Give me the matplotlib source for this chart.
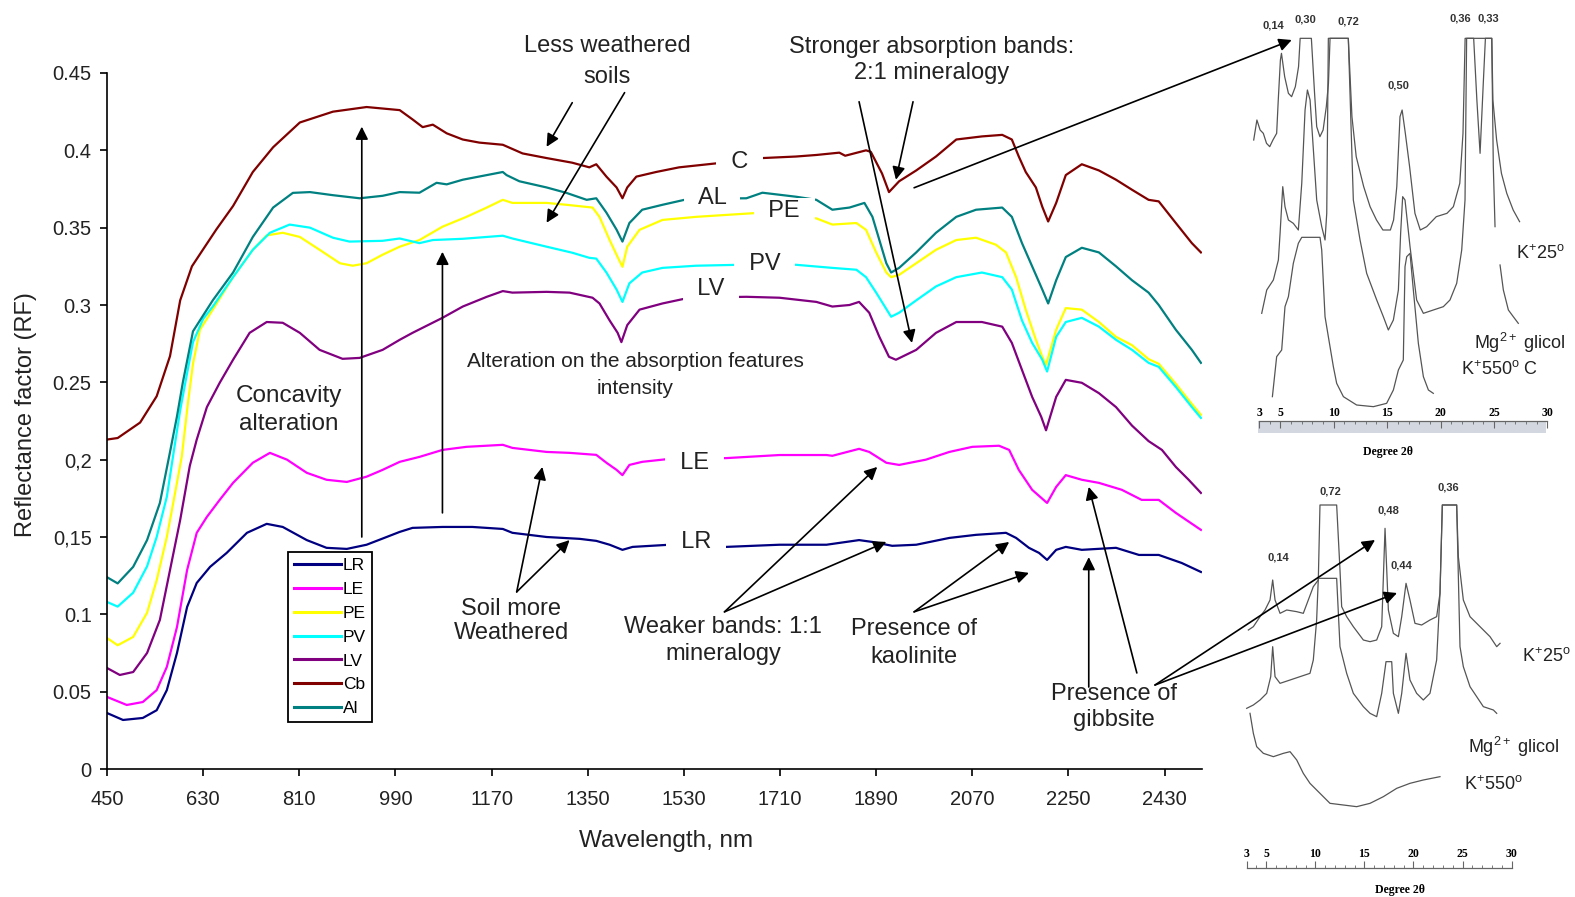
import numpy as np
import matplotlib
matplotlib.use("Agg")
import matplotlib.pyplot as plt
from matplotlib.lines import Line2D
from matplotlib.patches import ConnectionPatch

plt.rcParams["font.family"] = ["Liberation Sans", "DejaVu Sans"]
plt.rcParams["mathtext.fontset"] = "custom"
plt.rcParams["mathtext.rm"] = "Liberation Sans"
plt.rcParams["mathtext.it"] = "Liberation Sans:italic"
plt.rcParams["mathtext.bf"] = "Liberation Sans:bold"

# ---- reflectance spectra (wavelength nm, reflectance factor) ----
wl_lr = [450, 480, 517, 543, 562, 581, 600, 618, 643, 674, 712, 749, 779, 824, 861, 899, 936, 966,
         998, 1022, 1078, 1134, 1191, 1209, 1273, 1335, 1366, 1391, 1415, 1434, 1503, 1609, 1709,
         1797, 1858, 1883, 1920, 1965, 2027, 2077, 2133, 2152, 2176, 2195, 2210, 2227, 2245, 2275,
         2339, 2382, 2419, 2462, 2498]
rf_lr = [.0362, .0317, .033, .038, .051, .075, .1048, .1203, .1307, .1397, .1527, .1585, .1565,
         .148, .143, .1423, .145, .149, .1533, .1559, .1565, .1565, .1552, .1527, .150, .1488,
         .1475, .145, .1417, .1436, .145, .1436, .145, .145, .148, .1468, .1443, .145, .1494,
         .1514, .1527, .1494, .143, .1397, .1352, .1417, .1436, .1417, .143, .1384, .1384, .1332,
         .1274]

wl_le = [450, 487, 517, 543, 562, 581, 600, 618, 637, 661, 686, 723, 755, 787, 824, 861, 899, 936,
         966, 998, 1035, 1078, 1123, 1191, 1209, 1273, 1316, 1366, 1385, 1404, 1415, 1428, 1452,
         1503, 1609, 1709, 1797, 1808, 1858, 1877, 1909, 1933, 1983, 2027, 2070, 2120, 2139, 2157,
         2182, 2210, 2227, 2245, 2275, 2307, 2350, 2387, 2419, 2451, 2498]
rf_le = [.0466, .0414, .0433, .051, .066, .0918, .1287, .1527, .163, .174, .185, .198, .2044, .200,
         .1915, .187, .1856, .189, .1934, .1986, .2018, .2063, .2083, .2096, .2076, .205, .2044,
         .2031, .198, .1934, .190, .1966, .1986, .2005, .201, .203, .203, .2025, .207, .205, .198,
         .1966, .200, .205, .2083, .209, .2063, .1934, .1805, .172, .1824, .190, .187, .185, .1805,
         .174, .174, .1656, .1546]

wl_pe = [450, 470, 499, 525, 543, 562, 574, 590, 602, 611, 624, 648, 686, 723, 749, 779, 811, 848,
         886, 910, 936, 966, 998, 1035, 1078, 1123, 1161, 1191, 1209, 1273, 1310, 1359, 1372, 1391,
         1406, 1415, 1424, 1447, 1490, 1553, 1671, 1778, 1808, 1853, 1871, 1890, 1909, 1918, 1933,
         1965, 2002, 2040, 2077, 2114, 2133, 2152, 2170, 2189, 2201, 2208, 2227, 2245, 2275, 2307,
         2339, 2369, 2400, 2419, 2451, 2481, 2498]
rf_pe = [.0847, .080, .0854, .101, .122, .150, .172, .202, .238, .262, .284, .297, .318, .3357, .345,
         .3467, .344, .3357, .327, .3254, .327, .3325, .3377, .342, .3506, .357, .363, .368, .366,
         .366, .3648, .363, .357, .342, .331, .3247, .3377, .3486, .355, .357, .3596, .356, .352,
         .353, .3486, .334, .321, .318, .3195, .327, .3357, .342, .3435, .339, .334, .318, .297,
         .2775, .2665, .2613, .284, .298, .297, .289, .2794, .274, .265, .262, .249, .236, .229]

wl_pv = [450, 470, 499, 525, 543, 562, 574, 587, 600, 611, 630, 648, 686, 723, 755, 792, 830, 873,
         904, 966, 998, 1035, 1060, 1116, 1191, 1209, 1273, 1321, 1353, 1366, 1385, 1404, 1415,
         1428, 1452, 1490, 1553, 1634, 1740, 1808, 1853, 1871, 1890, 1918, 1933, 1965, 2002, 2040,
         2088, 2126, 2144, 2163, 2182, 2201, 2210, 2227, 2245, 2275, 2307, 2339, 2369, 2400, 2419,
         2451, 2481, 2498]
rf_pv = [.108, .105, .114, .131, .150, .176, .203, .232, .256, .276, .291, .299, .318, .3357, .3467,
         .352, .350, .3435, .341, .3415, .343, .340, .342, .3428, .3448, .343, .3377, .3338, .3305,
         .330, .321, .310, .302, .314, .321, .324, .3254, .326, .326, .324, .3228, .318, .308,
         .2924, .295, .303, .312, .318, .321, .318, .310, .290, .2755, .2646, .257, .2794, .289,
         .2917, .286, .2775, .271, .2626, .260, .247, .234, .227]

wl_lv = [450, 474, 499, 525, 549, 568, 587, 605, 618, 637, 661, 686, 717, 749, 779, 811, 848, 891,
         923, 966, 998, 1022, 1078, 1116, 1161, 1191, 1209, 1273, 1316, 1359, 1372, 1391, 1406,
         1413, 1424, 1447, 1490, 1540, 1647, 1709, 1778, 1808, 1840, 1858, 1877, 1896, 1914, 1927,
         1965, 2002, 2040, 2088, 2126, 2144, 2163, 2182, 2199, 2208, 2227, 2245, 2275, 2307, 2339,
         2369, 2400, 2425, 2451, 2475, 2498]
rf_lv = [.0653, .0608, .0627, .075, .0964, .1287, .161, .196, .213, .234, .2497, .2646, .282, .289,
         .2885, .282, .271, .2652, .2658, .271, .2775, .282, .2917, .299, .3053, .309, .308, .3085,
         .308, .3047, .301, .290, .282, .276, .287, .297, .301, .3047, .3053, .3047, .302, .299,
         .300, .302, .295, .2794, .2665, .2646, .271, .282, .289, .289, .286, .2755, .258, .2406,
         .2277, .219, .2406, .2516, .2497, .243, .234, .222, .212, .2063, .1953, .187, .1785]

wl_cb = [450, 470, 512, 543, 568, 587, 609, 630, 655, 686, 723, 761, 811, 873, 936, 998, 1022,
         1041, 1060, 1086, 1116, 1147, 1191, 1228, 1273, 1321, 1353, 1366, 1385, 1404, 1415, 1424,
         1441, 1478, 1521, 1602, 1677, 1740, 1778, 1821, 1832, 1871, 1880, 1901, 1914, 1933, 1965,
         2002, 2040, 2088, 2126, 2144, 2157, 2170, 2189, 2201, 2212, 2227, 2245, 2275, 2307, 2339,
         2369, 2400, 2419, 2451, 2481, 2498]
rf_cb = [.213, .214, .224, .241, .267, .303, .325, .336, .349, .364, .386, .402, .418, .425, .428,
         .426, .420, .415, .4166, .411, .407, .405, .4036, .398, .395, .392, .389, .391, .383, .376,
         .369, .376, .383, .386, .389, .392, .395, .396, .397, .3985, .3965, .400, .399, .385, .373,
         .380, .387, .396, .407, .409, .410, .407, .396, .386, .376, .3635, .354, .366, .384, .391,
         .387, .381, .3745, .368, .367, .353, .340, .334]

wl_al = [450, 470, 499, 525, 549, 568, 581, 592, 611, 648, 686, 723, 761, 798, 830, 873, 923, 966,
         998, 1035, 1067, 1086, 1116, 1161, 1191, 1198, 1222, 1273, 1310, 1348, 1366, 1385, 1404,
         1415, 1428, 1452, 1490, 1540, 1647, 1677, 1740, 1778, 1808, 1840, 1868, 1883, 1896, 1909,
         1918, 1933, 1965, 2002, 2040, 2077, 2126, 2144, 2163, 2182, 2201, 2212, 2227, 2245, 2275,
         2307, 2339, 2369, 2400, 2419, 2451, 2481, 2498]
rf_al = [.124, .120, .1307, .148, .172, .205, .228, .250, .283, .303, .321, .344, .363, .3725, .373,
         .371, .369, .3706, .373, .3726, .379, .378, .381, .384, .386, .384, .380, .376, .3725, .368,
         .369, .3597, .3487, .341, .353, .3616, .3648, .3687, .369, .3726, .370, .368, .3616, .363,
         .366, .357, .342, .327, .321, .324, .334, .3467, .357, .3616, .363, .357, .340, .325, .310,
         .301, .316, .331, .337, .334, .325, .316, .308, .300, .284, .271, .2626]

names = ["LR", "LE", "PE", "PV", "LV", "Cb", "Al"]
colors = ["#000080", "#FF00FF", "#FFFF00", "#00FFFF", "#800080", "#800000", "#008080"]
spectra = [(wl_lr, rf_lr), (wl_le, rf_le), (wl_pe, rf_pe), (wl_pv, rf_pv),
           (wl_lv, rf_lv), (wl_cb, rf_cb), (wl_al, rf_al)]

xticks = list(range(450, 2431, 180))
yticks = [0, 0.05, 0.1, 0.15, 0.2, 0.25, 0.3, 0.35, 0.4, 0.45]
ytick_labels = ["0", "0.05", "0.1", "0,15", "0,2", "0.25", "0.3", "0.35", "0.4", "0.45"]

# ---- clay XRD traces (degree 2theta, intensity a.u.) ----
# upper block
t_k25_deg = [2.5, 2.8, 3.1, 3.4, 3.7, 4.0, 4.3, 4.65, 4.8, 5.0, 5.1, 5.4, 5.75, 6.05, 6.4, 6.7,
             6.85, 7.0, 7.9, 8.2, 8.4, 8.7, 9.0, 9.3, 9.5, 9.65, 11.36, 11.7, 12.1, 12.8, 13.4, 14.0,
             14.6, 15.3, 15.6, 15.9, 16.2, 16.4, 16.7, 17.1, 17.6, 18.1, 18.7, 19.6, 20.6, 21.2,
             21.8, 22.1, 22.3, 23.1, 23.4, 23.7, 24.0, 24.2, 24.8, 24.9, 25.25, 25.7, 26.2, 26.8, 27.4]
t_k25_int = [96, 102, 99, 98, 95, 94, 96, 98, 108, 120, 122, 115, 110, 109, 112, 118, 126.5, 126.5,
             126.5, 110, 100, 97, 99, 106, 113, 126.5, 126.5, 103, 91, 82, 76, 72, 69, 69, 72, 82,
             103, 105, 98, 88, 74, 69, 70, 73, 74, 76, 83, 98, 126.5, 126.5, 108, 92, 113, 126.5,
             126.5, 108, 96, 86, 80, 75, 71.5]
t_mg_deg = [3.25, 3.72, 4.34, 4.81, 4.97, 5.22, 5.43, 5.75, 6.21, 6.68, 7.0, 7.31, 7.53, 7.78, 8.09,
            8.4, 8.87, 9.18, 9.34, 9.49, 11.36, 11.83, 12.46, 13.08, 14.02, 14.64, 15.11, 15.58,
            16.05, 16.26, 16.45, 16.67, 17.14, 17.76, 18.39, 19.32, 20.26, 20.88, 21.51, 21.98,
            22.29, 22.44, 24.79, 24.94, 25.1, np.nan, 25.57, 25.88, 26.35, 26.81, 27.28]
t_mg_int = [44, 51, 54, 60, 68, 82, 76, 72, 71, 69, 83, 105, 111, 108, 93, 78, 70, 66, 74, 126.5,
            126.5, 78, 66, 56, 48, 43, 39, 42, 51, 68, 79, 78, 64, 48, 44, 45, 46, 48, 53, 63, 78,
            126.5, 126.5, 88, 70, np.nan, 58.5, 51, 45, 43, 41]
t_k550_deg = [4.25, 4.65, 5.12, 5.43, 5.75, 6.21, 6.68, 7.0, 8.71, 8.87, 9.18, 9.49, 9.96, 10.27,
              10.9, 12.14, 13.71, 14.95, 15.58, 16.05, 16.51, 16.67, 16.83, 17.14, 17.45, 17.92,
              18.39, 18.86, 19.32]
t_k550_int = [19, 31, 33, 46, 49, 59, 65, 66.8, 66.8, 63, 43, 37, 28, 23, 19, 16.5, 16, 17, 21, 27,
              30, 58, 61, 62, 51, 35, 25, 21, 20]

# lower block
b_k25_deg = [3.17, 3.68, 4.36, 4.87, 5.38, 5.65, 5.89, 6.40, 7.08, 8.10, 8.77, 9.28, 9.79, 10.30,
             10.47, 12.17, 12.51, 12.68, 13.19, 13.87, 14.89, 15.57, 16.25, 16.76, 17.10, 17.44,
             17.95, 18.46, 18.80, 19.24, 19.64, 20.15, 20.83, 21.68, 22.36, 22.70, 22.94, 24.40,
             24.57, 25.08, 25.76, 26.78, 27.80, 28.48, 28.82]
b_k25_int = [80.1, 81.1, 84.1, 86.1, 89.1, 95.1, 89.1, 85.1, 86.1, 85.6, 85.1, 89.1, 93.1, 95.1,
             117.6, 117.6, 98.1, 87.1, 84.1, 81.1, 77.1, 76.6, 77.1, 81.1, 110.6, 86.1, 79.1, 78.1,
             84.1, 94.1, 89.1, 82.1, 81.6, 83.1, 84.1, 91.1, 117.6, 117.6, 102.1, 89.1, 84.1, 81.1,
             78.1, 75.1, 76.1]
b_mg_deg = [3.0, 3.68, 4.36, 5.04, 5.45, 5.65, 5.89, 6.40, 7.42, 8.43, 9.45, 9.79, 10.13, 10.30,
            12.17, 12.51, 13.19, 13.87, 14.89, 15.57, 16.25, 16.76, 17.20, 17.78, 17.95, 18.46,
            18.80, 19.24, 19.64, 20.32, 21.0, 21.68, 22.36, 22.70, 22.94, 24.40, 24.74, 25.08,
            25.76, 26.44, 27.12, 28.14, 28.48]
b_mg_int = [56.6, 57.6, 59.1, 61.1, 66.1, 75.1, 66.1, 64.1, 65.1, 66.1, 67.1, 71.1, 83.1, 95.6,
            95.6, 75.1, 67.1, 61.1, 57.1, 55.1, 54.1, 61.1, 70.6, 70.6, 61.1, 55.1, 61.1, 73.1,
            65.1, 61.1, 59.1, 61.1, 71.1, 91.1, 117.6, 117.6, 75.1, 69.1, 63.1, 60.1, 57.1, 56.1,
            55.1]
b_k550_deg = [3.34, 3.68, 4.02, 4.70, 5.72, 6.74, 7.42, 8.10, 8.77, 9.45, 10.47, 11.49, 12.85,
              14.21, 15.57, 16.93, 18.29, 19.64, 21.0, 22.70]
b_k550_int = [55.1, 49.1, 45.1, 43.1, 42.1, 43.1, 43.6, 41.1, 37.1, 34.1, 31.1, 28.1, 27.6, 27.1,
              28.1, 30.1, 32.6, 34.1, 35.1, 36.1]

deg_ticks = [3, 5, 10, 15, 20, 25, 30]

fig = plt.figure(figsize=(15.75, 8.97), dpi=100)
ax = fig.add_axes([107 / 1575, 128 / 897, 1095 / 1575, 696 / 897])

for name, (wl, rf), c in zip(names, spectra, colors):
    ax.plot(wl, rf, color=c, lw=1.6, label=name, zorder=2)

ax.set_xlim(450, 2500)
ax.set_ylim(0, 0.45)
ax.set_xticks(xticks)
ax.set_yticks(yticks)
ax.set_yticklabels(ytick_labels)
ax.spines[["top", "right"]].set_visible(False)
for s in ("left", "bottom"):
    ax.spines[s].set_linewidth(1.2)
ax.tick_params(axis="both", direction="out", length=5, width=1.2, labelsize=14.5,
               labelcolor="#222222")
ax.tick_params(axis="x", pad=10)
ax.tick_params(axis="y", pad=6)
ax.set_xlabel("Wavelength, nm", fontsize=17.5, color="#222222")
ax.set_ylabel("Reflectance factor (RF)", fontsize=17, color="#222222")
ax.xaxis.set_label_coords(0.511, -0.087)
ax.yaxis.set_label_coords(-0.064, 0.509)

handles = [Line2D([], [], color=c, lw=2.2) for c in colors]
leg = ax.legend(handles, names, loc="upper left", bbox_to_anchor=(0.1653, 0.3118),
                fontsize=12.5, frameon=True, fancybox=False, framealpha=1,
                borderpad=0.35, labelspacing=0.5, handlelength=2.7, handletextpad=0.1,
                borderaxespad=0)
leg.get_frame().set_edgecolor("black")
leg.get_frame().set_linewidth(1.3)

# curve names sitting on the spectra
curve_tags = [("C", 1634, 0.3926), ("AL", 1583, 0.3693), ("PE", 1718, 0.361),
              ("PV", 1681, 0.3266), ("LV", 1581, 0.3105), ("LE", 1550, 0.198),
              ("LR", 1553, 0.1468)]
for tag, x, y in curve_tags:
    ax.text(x, y, "  " + tag + "  ", ha="center", va="center", fontsize=17, color="#222222",
            bbox=dict(facecolor="white", edgecolor="none", pad=1), zorder=4)

notes = [("Less weathered\nsoils", 1387, 0.4573, 17, 1.55),
         ("Stronger absorption bands:\n2:1 mineralogy", 1993, 0.4586, 17, 1.25),
         ("Alteration on the absorption features\nintensity", 1439, 0.2549, 15, 1.52),
         ("Concavity\nalteration", 790, 0.2322, 17.5, 1.34),
         ("Soil more\nWeathered", 1207, 0.0957, 17, 1.11),
         ("Weaker bands: 1:1\nmineralogy", 1604, 0.0828, 17, 1.3),
         ("Presence of\nkaolinite", 1961, 0.0815, 17, 1.35),
         ("Presence of\ngibbsite", 2335, 0.0401, 17, 1.21)]
for txt, x, y, fs, ls in notes:
    ax.text(x, y, txt, ha="center", va="center", fontsize=fs, linespacing=ls,
            color="#222222", zorder=5, clip_on=False)

arrow_kw = dict(arrowstyle="-|>", color="black", lw=1.2, mutation_scale=19,
                shrinkA=0, shrinkB=0)
arrows = [((927, 0.150), (927, 0.4153)),
          ((1078, 0.1656), (1078, 0.3344)),
          ((1321, 0.4308), (1273, 0.4023)),
          ((1419, 0.4373), (1273, 0.3532)),
          ((1858, 0.4314), (1957, 0.2755)),
          ((1959, 0.4314), (1927, 0.381)),
          ((1217, 0.1145), (1265, 0.1953)),
          ((1217, 0.1145), (1316, 0.148)),
          ((1606, 0.1016), (1892, 0.1953)),
          ((1606, 0.1016), (1909, 0.1468)),
          ((1961, 0.1016), (2139, 0.1468)),
          ((1961, 0.1016), (2176, 0.1268)),
          ((2288, 0.053), (2288, 0.137)),
          ((2378, 0.0621), (2288, 0.1824))]
for tail, head in arrows:
    ax.annotate("", xy=head, xytext=tail, arrowprops=arrow_kw, annotation_clip=False, zorder=6)

# ---- XRD blocks ----
xrd_color = "#555555"
num_font = dict(family=["Liberation Sans", "DejaVu Sans"], fontweight="bold", fontsize=8,
                color="#333333")
scale_font = dict(family=["Liberation Serif", "DejaVu Serif"], fontweight="bold", fontsize=8.5)

ax_t = fig.add_axes([1230 / 1575, 437 / 897, 345 / 1575, 460 / 897])
ax_t.set_facecolor("none")
ax_t.set_xlim(0.28, 32.59)
ax_t.set_ylim(0, 138)
ax_t.plot(t_k25_deg, t_k25_int, color=xrd_color, lw=0.9)
ax_t.plot(t_mg_deg, t_mg_int, color=xrd_color, lw=0.9)
ax_t.plot(t_k550_deg, t_k550_int, color=xrd_color, lw=0.9)
ax_t.fill_between([2.94, 29.9], 8, 11.8, color="#d3d8e0", lw=0)

ax_b = fig.add_axes([1230 / 1575, 0, 345 / 1575, 437 / 897])
ax_b.set_facecolor("none")
ax_b.set_xlim(1.30, 36.46)
ax_b.set_ylim(0, 131.1)
ax_b.plot(b_k25_deg, b_k25_int, color=xrd_color, lw=0.9)
ax_b.plot(b_mg_deg, b_mg_int, color=xrd_color, lw=0.9)
ax_b.plot(b_k550_deg, b_k550_int, color=xrd_color, lw=0.9)

for a, base, tick_dir in ((ax_t, 11.8, "in"), (ax_b, 8.6, "out")):
    for s in ("left", "right", "bottom"):
        a.spines[s].set_visible(False)
    a.spines["top"].set_position(("data", base))
    a.spines["top"].set_bounds(3, 30)
    a.spines["top"].set_linewidth(0.9)
    a.spines["top"].set_color("#666666")
    a.set_yticks([])
    a.set_xticks(deg_ticks)
    a.set_xticks(range(3, 31), minor=True)
    a.tick_params(axis="x", which="both", top=True, bottom=False, labeltop=True,
                  labelbottom=False, direction=tick_dir, color="#666666", pad=1)
    a.tick_params(axis="x", which="major", length=5)
    a.tick_params(axis="x", which="minor", length=2.5)
    for lab in a.get_xticklabels():
        lab.set_fontfamily(scale_font["family"])
        lab.set_fontweight("bold")
        lab.set_fontsize(scale_font["fontsize"])

ax_t.text(15.1, 2.5, "Degree 2θ", ha="center", va="center", **scale_font)
ax_b.text(18.6, 2.1, "Degree 2θ", ha="center", va="center", **scale_font)

for lab, x, y in [("0,14", 4.34, 130.5), ("0,30", 7.31, 132), ("0,72", 11.36, 131.5),
                  ("0,50", 16.05, 112.5), ("0,36", 21.82, 132.5), ("0,33", 24.47, 132.5)]:
    ax_t.text(x, y, lab, ha="center", va="center", **num_font)
for lab, x, y in [("0,14", 6.23, 102), ("0,72", 11.49, 121.6), ("0,48", 17.44, 116),
                  ("0,44", 18.8, 99.6), ("0,36", 23.55, 123)]:
    ax_b.text(x, y, lab, ha="center", va="center", **num_font)

cond_kw = dict(ha="center", va="center", fontsize=13, color="#222222")
ax_t.text(29.37, 62, r"K$^{+}$25$^{\rm o}$", **cond_kw)
ax_t.text(27.44, 35, r"Mg$^{2+}$ glicol", **cond_kw)
ax_t.text(25.5, 27, r"K$^{+}$550$^{\rm o}$ C", **cond_kw)
ax_b.text(33.57, 72, r"K$^{+}$25$^{\rm o}$", **cond_kw)
ax_b.text(30.17, 45, r"Mg$^{2+}$ glicol", **cond_kw)
ax_b.text(28.1, 33.6, r"K$^{+}$550$^{\rm o}$", **cond_kw)

# arrows linking the spectra to the diffractograms
links = [((1961, 0.3758), ax_t, (6.06, 126)),
         ((2412, 0.0543), ax_b, (16.08, 107.1)),
         ((2412, 0.0543), ax_b, (18.32, 91.2))]
for tail, target, head in links:
    con = ConnectionPatch(xyA=tail, coordsA=ax.transData, xyB=head, coordsB=target.transData,
                          **arrow_kw)
    con.set_zorder(10)
    fig.add_artist(con)

fig.savefig("out.png", dpi=100)
